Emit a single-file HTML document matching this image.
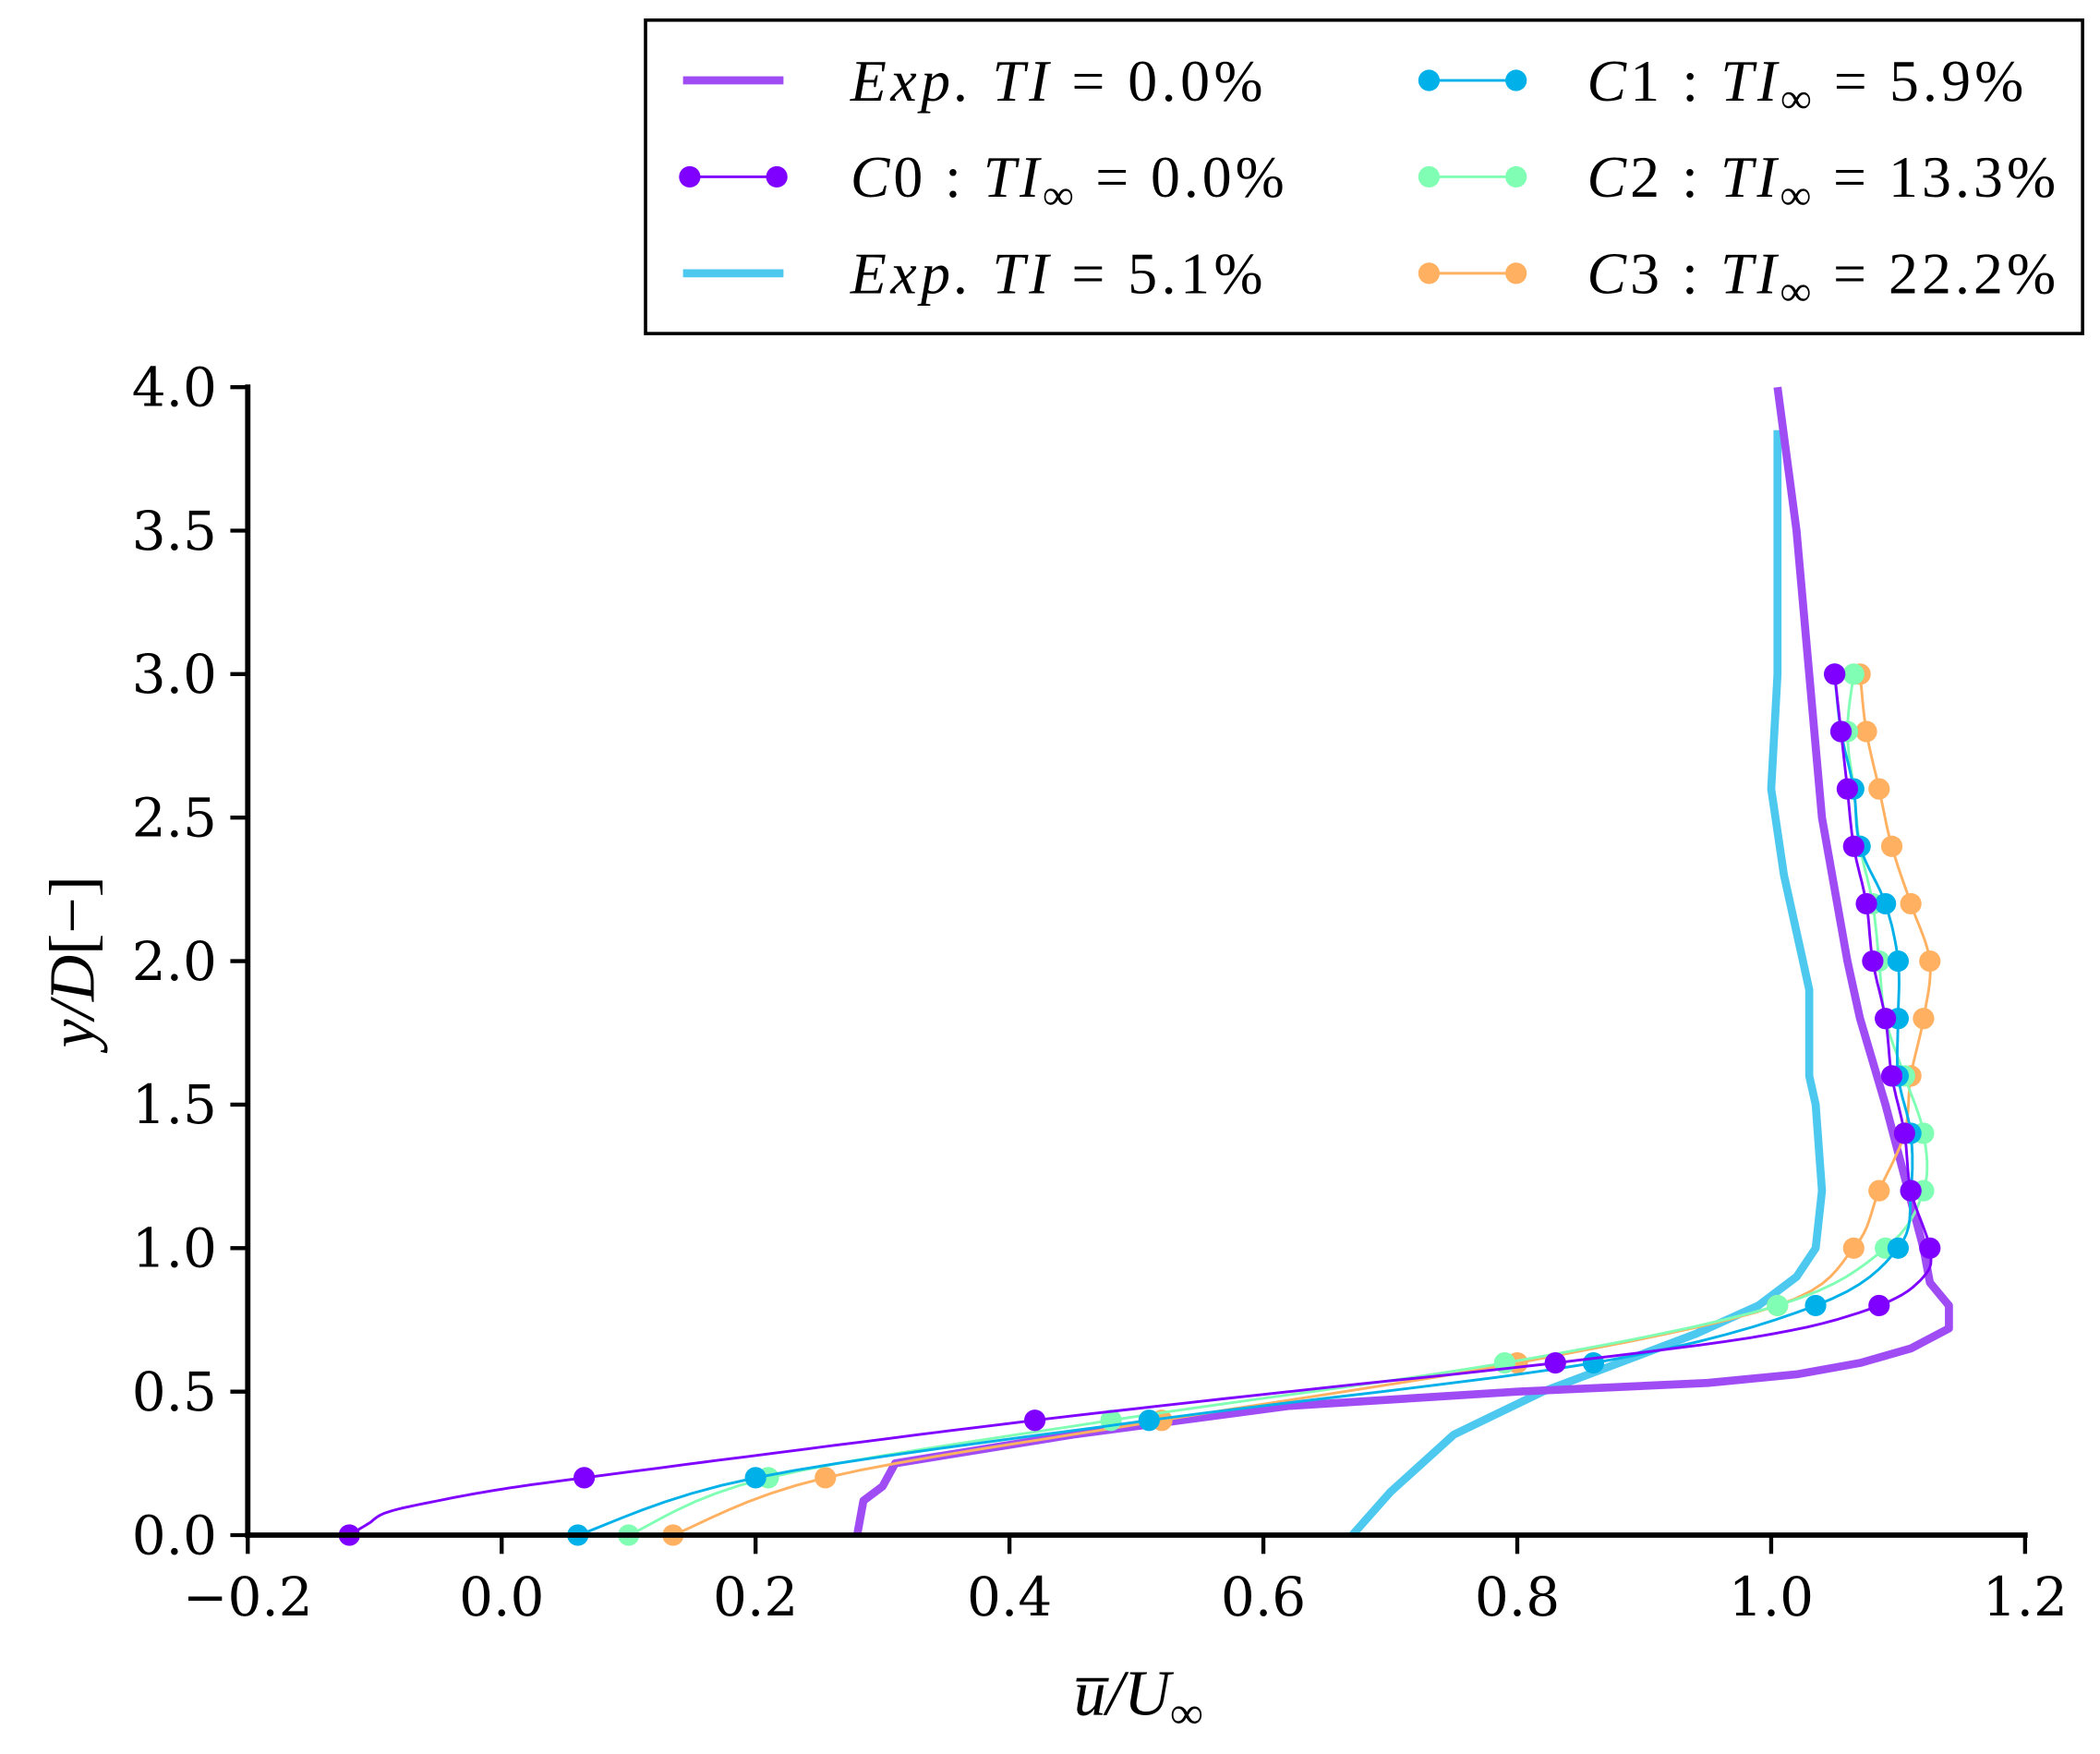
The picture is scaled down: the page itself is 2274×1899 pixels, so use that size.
<!DOCTYPE html>
<html><head><meta charset="utf-8"><style>
html,body{margin:0;padding:0;background:#fff;width:2274px;height:1899px;overflow:hidden}
svg{display:block}
text{font-family:"DejaVu Serif","Liberation Serif",serif;fill:#000}
.it{font-style:italic;font-family:"Liberation Serif","DejaVu Serif",serif}
</style></head><body>
<svg id="s" width="2274" height="1899" viewBox="0 0 1568 1309.4" xmlns="http://www.w3.org/2000/svg">
<g id="plot"></g>
<line x1="185" y1="287" x2="185" y2="1148" stroke="#000" stroke-width="4"/>
<line x1="183" y1="1146" x2="1514" y2="1146" stroke="#000" stroke-width="4"/>
<g id="ticks"></g>
<text x="850" y="1280" font-size="48" text-anchor="middle" class="it">u̅/U<tspan font-size="34" dy="10">∞</tspan></text>
<text transform="translate(70,718) rotate(-90)" font-size="48" text-anchor="middle" class="it">y/D<tspan font-style="normal">[−]</tspan></text>
<rect x="482" y="15" width="1073" height="234" fill="#fff" stroke="#000" stroke-width="2.5"/>
<line x1="510" y1="60" x2="585" y2="60" stroke="#a04cf5" stroke-width="6"/>
<line x1="515" y1="132" x2="580" y2="132" stroke="#7f00ff" stroke-width="2"/>
<circle cx="515" cy="132" r="8" fill="#7f00ff"/><circle cx="580" cy="132" r="8" fill="#7f00ff"/>
<line x1="510" y1="204" x2="585" y2="204" stroke="#4dc9f0" stroke-width="6"/>
<line x1="1067" y1="60" x2="1132" y2="60" stroke="#00b0e8" stroke-width="2"/>
<circle cx="1067" cy="60" r="8" fill="#00b0e8"/><circle cx="1132" cy="60" r="8" fill="#00b0e8"/>
<line x1="1067" y1="132" x2="1132" y2="132" stroke="#80ffb4" stroke-width="2"/>
<circle cx="1067" cy="132" r="8" fill="#80ffb4"/><circle cx="1132" cy="132" r="8" fill="#80ffb4"/>
<line x1="1067" y1="204" x2="1132" y2="204" stroke="#ffb060" stroke-width="2"/>
<circle cx="1067" cy="204" r="8" fill="#ffb060"/><circle cx="1132" cy="204" r="8" fill="#ffb060"/>
<g font-size="44">
<text x="635" y="75" class="it" textLength="308">Exp. TI<tspan font-style="normal"> = 0.0%</tspan></text>
<text x="635" y="147" class="it" textLength="324">C<tspan font-style="normal">0 : </tspan>TI<tspan font-size="32" dy="9">∞</tspan><tspan font-style="normal" dy="-9"> = 0.0%</tspan></text>
<text x="635" y="219" class="it" textLength="308">Exp. TI<tspan font-style="normal"> = 5.1%</tspan></text>
<text x="1185" y="75" class="it" textLength="326">C<tspan font-style="normal">1 : </tspan>TI<tspan font-size="32" dy="9">∞</tspan><tspan font-style="normal" dy="-9"> = 5.9%</tspan></text>
<text x="1185" y="147" class="it" textLength="350">C<tspan font-style="normal">2 : </tspan>TI<tspan font-size="32" dy="9">∞</tspan><tspan font-style="normal" dy="-9"> = 13.3%</tspan></text>
<text x="1185" y="219" class="it" textLength="350">C<tspan font-style="normal">3 : </tspan>TI<tspan font-size="32" dy="9">∞</tspan><tspan font-style="normal" dy="-9"> = 22.2%</tspan></text>
</g>
</svg>
<script>
var NS="http://www.w3.org/2000/svg";
function X(u){return 185+(u+0.2)*947.9}
function Y(y){return 1146-y*214.25}
function el(p,t,a){var e=document.createElementNS(NS,t);for(var k in a)e.setAttribute(k,a[k]);p.appendChild(e);return e}
var plot=document.getElementById("plot"),tk=document.getElementById("ticks");
function line(pts,c,w,m){
 var d=pts.map(function(p){return X(p[1]).toFixed(1)+","+Y(p[0]).toFixed(1)}).join(" ");
 el(plot,"polyline",{points:d,fill:"none",stroke:c,"stroke-width":w,"stroke-linejoin":"round"});
 if(m)m.forEach(function(p){el(plot,"circle",{cx:X(p[1]),cy:Y(p[0]),r:8,fill:c})});
}
var e0=[[0,0.28],[0.12,0.285],[0.17,0.30],[0.25,0.31],[0.35,0.45],[0.45,0.62],[0.5,0.8],[0.53,0.95],[0.56,1.02],[0.6,1.07],[0.65,1.11],[0.72,1.14],[0.8,1.14],[0.88,1.125],[1.0,1.12],[1.5,1.09],[1.8,1.07],[2.0,1.06],[2.5,1.04],[3.0,1.03],[3.5,1.02],[4.0,1.005]];
var e5=[[0,0.67],[0.15,0.70],[0.35,0.75],[0.5,0.82],[0.6,0.88],[0.7,0.94],[0.8,0.99],[0.9,1.02],[1.0,1.035],[1.2,1.04],[1.5,1.035],[1.6,1.03],[1.9,1.03],[2.0,1.025],[2.3,1.01],[2.6,1.0],[3.0,1.005],[3.5,1.005],[3.85,1.005]];
var c0=[[0,-0.12],[0.2,0.065],[0.4,0.42],[0.6,0.83],[0.8,1.085],[1.0,1.125],[1.2,1.11],[1.4,1.105],[1.6,1.095],[1.8,1.09],[2.0,1.08],[2.2,1.075],[2.4,1.065],[2.6,1.06],[2.8,1.055],[3.0,1.05]];
var c1=[[0,0.06],[0.2,0.2],[0.4,0.51],[0.6,0.86],[0.8,1.035],[1.0,1.1],[1.2,1.11],[1.4,1.11],[1.6,1.1],[1.8,1.1],[2.0,1.1],[2.2,1.09],[2.4,1.07],[2.6,1.065],[2.8,1.055],[3.0,1.05]];
var c2=[[0,0.10],[0.2,0.21],[0.4,0.48],[0.6,0.79],[0.8,1.005],[1.0,1.09],[1.2,1.12],[1.4,1.12],[1.6,1.105],[1.8,1.09],[2.0,1.085],[2.2,1.08],[2.4,1.07],[2.6,1.065],[2.8,1.06],[3.0,1.065]];
var c3=[[0,0.135],[0.2,0.255],[0.4,0.52],[0.6,0.80],[0.8,1.005],[1.0,1.065],[1.2,1.085],[1.4,1.105],[1.6,1.11],[1.8,1.12],[2.0,1.125],[2.2,1.11],[2.4,1.095],[2.6,1.085],[2.8,1.075],[3.0,1.07]];
// Catmull-Rom densify for smooth look
function dens(p){var o=[];for(var i=0;i<p.length-1;i++){var a=p[Math.max(i-1,0)],b=p[i],c=p[i+1],d=p[Math.min(i+2,p.length-1)];
 for(var k=0;k<8;k++){var t=k/8,t2=t*t,t3=t2*t;var f=function(j){return 0.5*((2*b[j])+(-a[j]+c[j])*t+(2*a[j]-5*b[j]+4*c[j]-d[j])*t2+(-a[j]+3*b[j]-3*c[j]+d[j])*t3)};o.push([f(0),f(1)]);}}
 o.push(p[p.length-1]);return o}
var c0l=[[0,-0.12],[0.04,-0.105],[0.08,-0.09],[0.12,-0.05],[0.16,0.0],[0.2,0.065],[0.3,0.24],[0.4,0.42],[0.5,0.62],[0.6,0.83],[0.7,1.0],[0.8,1.085],[0.9,1.12],[1.0,1.125],[1.2,1.11],[1.4,1.105],[1.6,1.095],[1.8,1.09],[2.0,1.08],[2.2,1.075],[2.4,1.065],[2.6,1.06],[2.8,1.055],[3.0,1.05]];
line(e5,"#4dc9f0",6);
line(e0,"#a04cf5",6);
line(dens(c3),"#ffb060",2,c3);
line(dens(c2),"#80ffb4",2,c2);
line(dens(c1),"#00b0e8",2,c1);
line(dens(c0l),"#7f00ff",2,c0);
for(var i=0;i<=8;i++){var y=i*0.5,yy=Y(y);
 el(tk,"line",{x1:172,y1:yy,x2:185,y2:yy,stroke:"#000","stroke-width":3});
 var t=el(tk,"text",{x:162,y:yy+14,"font-size":40,"text-anchor":"end"});t.textContent=y.toFixed(1);}
for(var i=0;i<=7;i++){var u=-0.2+i*0.2,xx=X(u);
 el(tk,"line",{x1:xx,y1:1146,x2:xx,y2:1160,stroke:"#000","stroke-width":3});
 var t=el(tk,"text",{x:xx,y:1206,"font-size":40,"text-anchor":"middle"});t.textContent=(Math.abs(u)<1e-9?"0.0":(u<0?"−":"")+Math.abs(u).toFixed(1));}
</script>
</body></html>
